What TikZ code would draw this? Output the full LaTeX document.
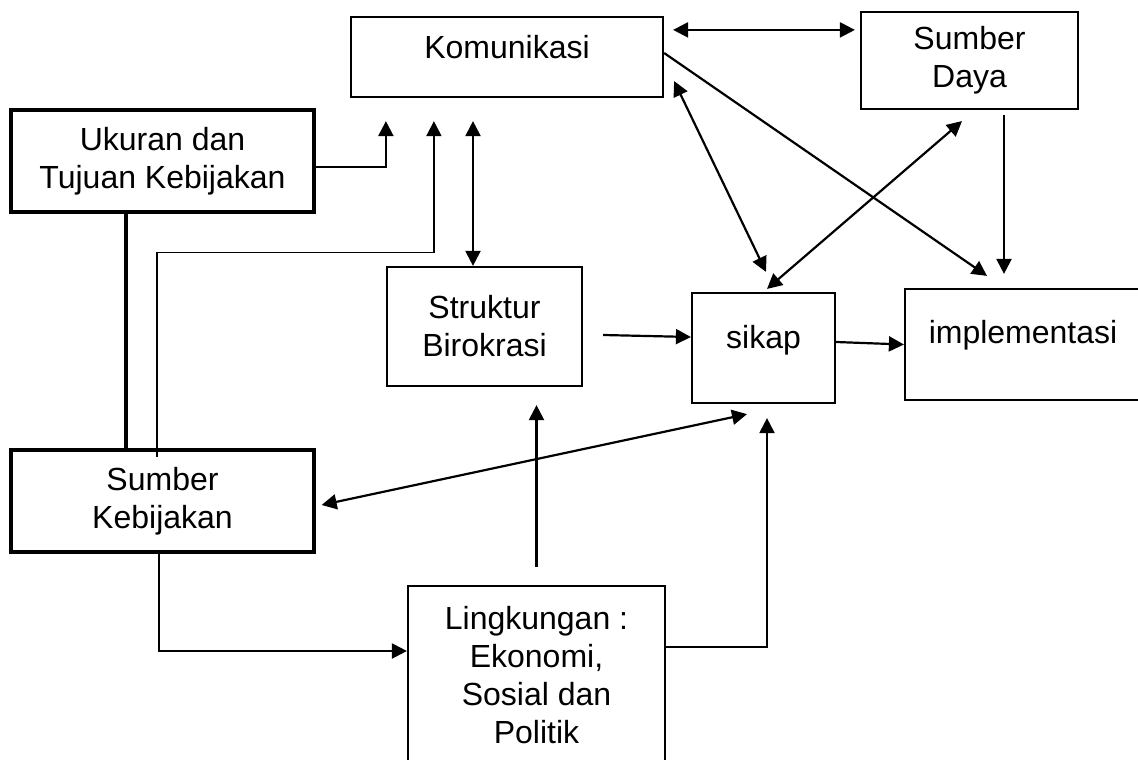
\documentclass[tikz,border=0pt]{standalone}
\usepackage{fontspec}
\setmainfont{Liberation Sans}
\usetikzlibrary{arrows.meta}

\begin{document}
\begin{tikzpicture}[
x=1pt,
y=-1pt,
font=\fontsize{32pt}{38pt}\selectfont,
block/.style={
  draw,
  line width=2.2pt,
  align=center,
  inner sep=0pt
  },
heavy/.style={
  block,
  line width=3.3pt
  },
link/.style={
  line width=2.2pt
  },
>={Triangle[length=15pt,width=15pt]}
]
\clip[use as bounding box] (0,0) rectangle (1138,760);

\node[block, minimum width=312pt, minimum height=80pt,
  label={[yshift=10pt]center:Komunikasi}] (kom) at (507,57) {};
\node[block, minimum width=217pt, minimum height=97pt] (daya) at (969.5,60.5) {Sumber\\Daya};
\node[heavy, minimum width=303pt, minimum height=102pt] (tujuan) at (162.5,161) {Ukuran dan\\Tujuan Kebijakan};
\node[block, minimum width=195pt, minimum height=119pt] (struktur) at (484.5,326.5) {Struktur\\Birokrasi};
\node[block, minimum width=143pt, minimum height=110pt,
  label={[yshift=8pt]center:sikap}] (sikap) at (763.5,348) {};
\node[block, minimum width=236pt, minimum height=111pt,
  label={[yshift=9.5pt]center:implementasi}] (impl) at (1023,344.5) {};
\node[heavy, minimum width=303pt, minimum height=102pt] (sumber) at (162.5,501) {Sumber\\Kebijakan};
\node[block, minimum width=257pt, minimum height=178pt] (ling) at (536.5,675) {Lingkungan :\\Ekonomi,\\Sosial dan\\Politik};

% menuju komunikasi
\draw[link,->,shorten >=23pt] ([yshift=-6pt]tujuan.east) -| ([xshift=36pt]kom.south west);
\draw[line width=1.7pt,->,shorten >=23pt] ([xshift=-5.5pt,yshift=-9pt]sumber.north) -- ++(0,-205) -| ([xshift=84pt]kom.south west);
\draw[link,<->,shorten >=23pt] ([xshift=-11.5pt]struktur.north) -- ([xshift=-11.5pt]struktur.north |- kom.south);
\draw[link,<->,shorten <=9pt,shorten >=5pt] ([yshift=-14pt]kom.north east) -- ([yshift=-14pt]kom.north east -| daya.west);
\draw[line width=4pt] ([xshift=-36.5pt]tujuan.south) -- ([xshift=-36.5pt]sumber.north);

% garis silang
\draw[link,->] ([yshift=4pt]kom.east) -- ([xshift=-36pt,yshift=12pt]impl.north);
\draw[link,<->] ([xshift=10pt,yshift=17pt]kom.south east) -- ([xshift=2.5pt,yshift=20pt]sikap.north);
\draw[link,<->] ([xshift=-7.5pt,yshift=-11pt]daya.south) -- ([xshift=3.5pt,yshift=3pt]sikap.north);
\draw[link,->] ([xshift=34.5pt,yshift=-5pt]daya.south) -- ([xshift=-19pt,yshift=14pt]impl.north);

% menuju sikap dan implementasi
\draw[link,->] ([xshift=20pt,yshift=-8.5pt]struktur.east) -- ([yshift=11pt]sikap.west);
\draw[link,->] ([yshift=6pt]sikap.east) -- (impl.west);
\draw[link,<->] ([xshift=6pt,yshift=-4pt]sumber.east) -- ([xshift=-16.5pt,yshift=-10pt]sikap.south);

% lingkungan
\draw[link,->,shorten <=18pt,shorten >=18pt] (ling.north) -- (ling.north |- struktur.south);
\draw[link,->,shorten >=14pt] ([yshift=28pt]ling.east) -| ([xshift=3.5pt]sikap.south);
\draw[link,->] ([xshift=-3.5pt]sumber.south) |- ([yshift=24pt]ling.west);

\end{tikzpicture}
\end{document}
